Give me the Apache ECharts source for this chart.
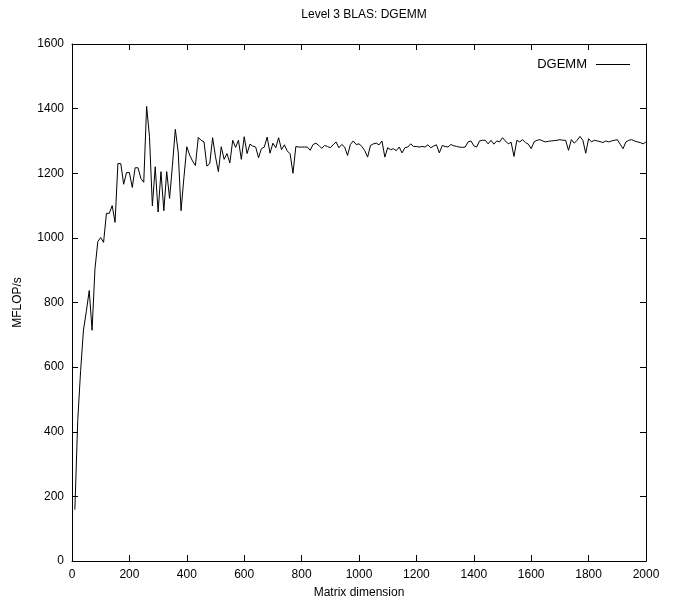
<!DOCTYPE html>
<html>
<head>
<meta charset="utf-8">
<script src="https://cdn.jsdelivr.net/npm/echarts@6/dist/echarts.min.js"></script>
<style>html,body{margin:0;padding:0;background:#fff}#c{width:676px;height:615px}</style>
</head>
<body>
<div id="c"></div>
<script>
const titleText = 'Level 3 BLAS: DGEMM';
const xName = 'Matrix dimension';
const yName = 'MFLOP/s';
const seriesName = 'DGEMM';
const dims = [10,20,30,40,50,60,70,80,90,100,110,120,130,140,150,160,170,180,190,200,
210,220,230,240,250,260,270,280,290,300,310,320,330,340,350,360,370,380,390,400,
410,420,430,440,450,460,470,480,490,500,510,520,530,540,550,560,570,580,590,600,
610,620,630,640,650,660,670,680,690,700,710,720,730,740,750,760,770,780,790,800,
810,820,830,840,850,860,870,880,890,900,910,920,930,940,950,960,970,980,990,1000,
1010,1020,1030,1040,1050,1060,1070,1080,1090,1100,1110,1120,1130,1140,1150,1160,1170,1180,1190,1200,
1210,1220,1230,1240,1250,1260,1270,1280,1290,1300,1310,1320,1330,1340,1350,1360,1370,1380,1390,1400,
1410,1420,1430,1440,1450,1460,1470,1480,1490,1500,1510,1520,1530,1540,1550,1560,1570,1580,1590,1600,
1610,1620,1630,1640,1650,1660,1670,1680,1690,1700,1710,1720,1730,1740,1750,1760,1770,1780,1790,1800,
1810,1820,1830,1840,1850,1860,1870,1880,1890,1900,1910,1920,1930,1940,1950,1960,1970,1980,1990,2000];
const mflops = [159,435,589,715,773,837,714,904,989,1001,986,1076,1076,1100,1048,1230,1230,1166,1202,1202,
1156,1217,1217,1184,1172,1407,1313,1099,1220,1080,1205,1084,1205,1122,1225,1336,1266,1084,1187,1282,
1256,1238,1224,1311,1302,1297,1222,1230,1310,1251,1205,1282,1243,1261,1232,1302,1280,1302,1243,1313,
1261,1290,1284,1281,1248,1276,1281,1312,1262,1293,1279,1310,1273,1288,1269,1260,1200,1283,1281,1281,
1281,1281,1271,1289,1293,1286,1277,1286,1283,1279,1288,1297,1279,1289,1281,1255,1289,1300,1289,1291,
1283,1270,1250,1286,1291,1293,1288,1300,1250,1279,1273,1276,1270,1281,1263,1279,1281,1291,1283,1283,
1281,1283,1281,1288,1279,1284,1288,1263,1286,1283,1281,1289,1285,1283,1281,1280,1281,1297,1300,1285,
1281,1300,1302,1302,1291,1302,1290,1300,1297,1310,1300,1291,1296,1252,1302,1297,1304,1295,1290,1276,
1297,1302,1304,1300,1297,1299,1300,1301,1302,1304,1302,1302,1271,1304,1293,1302,1314,1302,1262,1307,
1297,1302,1300,1298,1295,1300,1297,1300,1302,1304,1290,1276,1297,1302,1304,1300,1297,1295,1291,1297];

const FONT = 'Liberation Sans';
const chart = echarts.init(document.getElementById('c'), null, {renderer: 'canvas'});
const tickCommon = {show: true, inside: true, length: 6, lineStyle: {color: '#000'}};
const lineCommon = {show: true, onZero: false, lineStyle: {color: '#000', width: 1}};
const plain = v => String(v);
chart.setOption({
  backgroundColor: '#fff',
  animation: false,
  title: {text: titleText, left: 359, textAlign: 'center', top: 4,
    textStyle: {fontFamily: FONT, fontSize: 12, fontWeight: 'normal', color: '#000'}},
  grid: {left: 72, right: 30, top: 44, bottom: 54, show: false},
  legend: {data: [{name: seriesName, icon: 'rect'}], right: 41, top: 53, align: 'right',
    itemWidth: 34, itemHeight: 1, itemStyle: {color: '#000'},
    textStyle: {fontFamily: FONT, fontSize: 13, color: '#000', padding: [0, 4, 0, 0]}},
  xAxis: [
    {type: 'value', min: 0, max: 2000, interval: 200, position: 'bottom',
     name: xName, nameLocation: 'middle', nameGap: 26,
     nameTextStyle: {fontFamily: FONT, fontSize: 12, color: '#000'},
     axisLine: lineCommon, axisTick: tickCommon, splitLine: {show: false},
     axisLabel: {fontFamily: FONT, fontSize: 12, color: '#000', margin: 8, formatter: plain}},
    {type: 'value', min: 0, max: 2000, interval: 200, position: 'top',
     axisLine: lineCommon, axisTick: tickCommon, splitLine: {show: false},
     axisLabel: {show: false}}
  ],
  yAxis: [
    {type: 'value', min: 0, max: 1600, interval: 200, position: 'left',
     name: yName, nameLocation: 'middle', nameGap: 48, nameRotate: 90,
     nameTextStyle: {fontFamily: FONT, fontSize: 12, color: '#000'},
     axisLine: lineCommon, axisTick: tickCommon, splitLine: {show: false},
     axisLabel: {fontFamily: FONT, fontSize: 12, color: '#000', margin: 8, formatter: plain}},
    {type: 'value', min: 0, max: 1600, interval: 200, position: 'right',
     axisLine: lineCommon, axisTick: tickCommon, splitLine: {show: false},
     axisLabel: {show: false}}
  ],
  series: [{
    name: seriesName, type: 'line', xAxisIndex: 0, yAxisIndex: 0,
    data: dims.map((d, i) => [d, mflops[i]]),
    symbol: 'none', lineStyle: {color: '#000', width: 1}, itemStyle: {color: '#000'}
  }]
});
</script>
</body>
</html>
